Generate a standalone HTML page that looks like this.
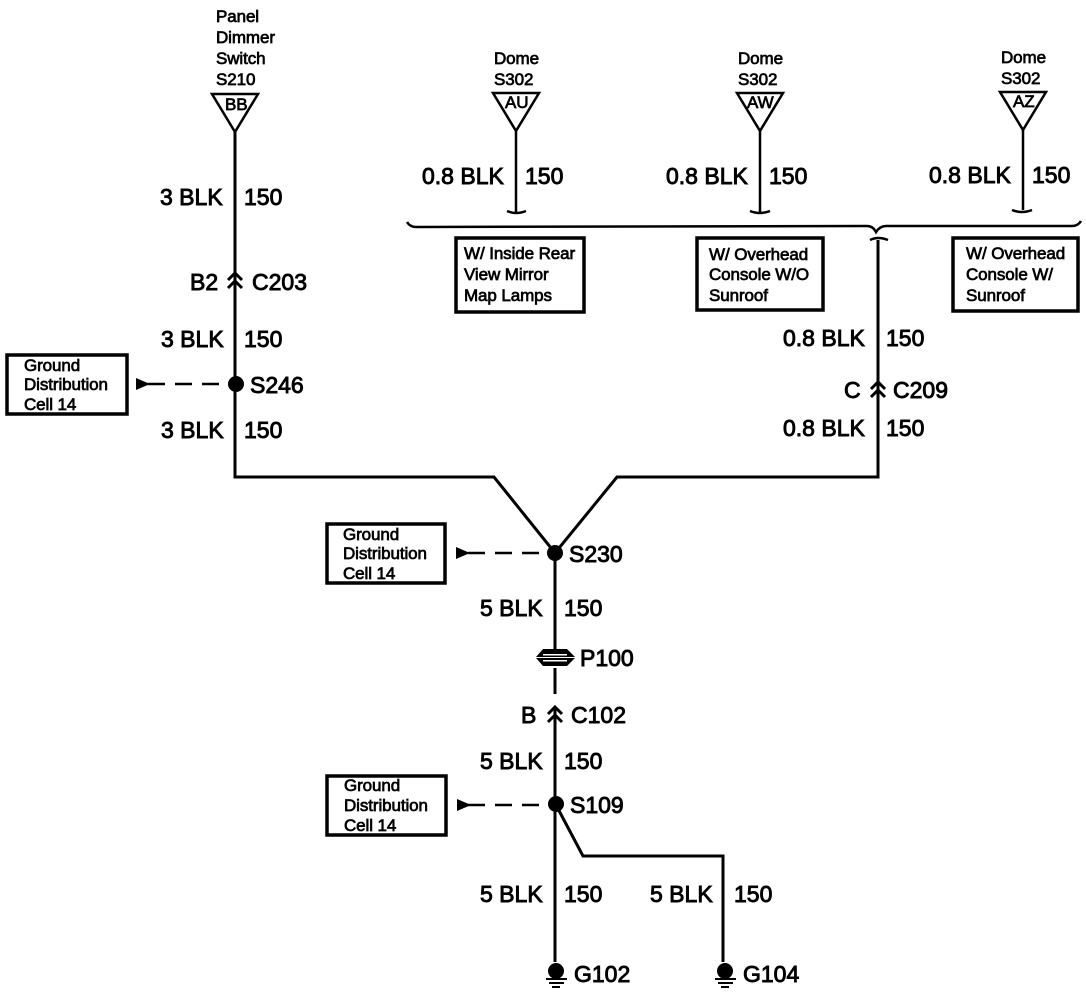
<!DOCTYPE html>
<html><head><meta charset="utf-8">
<style>
html,body{margin:0;padding:0;background:#fff}
svg{display:block}
text{font-family:"Liberation Sans",sans-serif;fill:#000;stroke:#000}
.l{font-size:23px;stroke-width:.9px}
.s{font-size:17px;stroke-width:.7px;letter-spacing:-.1px}
.w{fill:none;stroke:#000;stroke-width:3px}
.t{fill:none;stroke:#000;stroke-width:2.5px}
.b{fill:#fff;stroke:#000;stroke-width:3.5px}
</style></head><body>
<svg width="1086" height="1008" viewBox="0 0 1086 1008" xmlns="http://www.w3.org/2000/svg">
<!-- Triangles -->
<polygon class="t" points="212,94 258,94 235,132"/>
<polygon class="t" points="493,93 539,93 516,131"/>
<polygon class="t" points="737,93 783,93 760,131"/>
<polygon class="t" points="1000,92 1046,92 1023,130"/>
<!-- Wires -->
<polyline class="w" points="235,132 235,477 494,477 555,553 617,477 878,477 878,240"/>
<polyline class="w" points="555,553 555,650"/>
<polyline class="w" points="555,668 555,962"/>
<polyline class="w" points="556,805 583,856 723,856 723,962"/>
<polyline class="t" points="516,131 516,212"/>
<polyline class="t" points="760,131 760,212"/>
<polyline class="t" points="1023,130 1023,210"/>
<!-- Wire ends -->
<path class="t" d="M507,211 Q516,215 526,211"/>
<path class="t" d="M750,211 Q760,215 770,211"/>
<path class="t" d="M1012,210 Q1022,214 1032,210"/>
<path class="t" d="M870,240 Q878,236 888,240"/>
<!-- Brace -->
<path class="t" d="M407,222 Q410,227 416,227 L867,226 Q873,226 876,232 Q880,226 886,226 L1072,226 Q1078,226 1081,221"/>
<!-- Boxes top -->
<rect class="b" x="456" y="238" width="128" height="74"/>
<rect class="b" x="697" y="238" width="126" height="72"/>
<rect class="b" x="953" y="238" width="125" height="73"/>
<text class="s" x="464" y="259">W/ Inside Rear</text>
<text class="s" x="464" y="280">View Mirror</text>
<text class="s" x="464" y="301">Map Lamps</text>
<text class="s" x="709" y="260">W/ Overhead</text>
<text class="s" x="709" y="280">Console W/O</text>
<text class="s" x="709" y="301">Sunroof</text>
<text class="s" x="966" y="259">W/ Overhead</text>
<text class="s" x="966" y="280">Console W/</text>
<text class="s" x="966" y="301">Sunroof</text>
<!-- Ground distribution boxes -->
<rect class="b" x="7" y="355" width="120" height="59"/>
<rect class="b" x="327" y="524" width="118" height="59"/>
<rect class="b" x="327" y="776" width="119" height="59"/>
<text class="s" x="24" y="371">Ground</text>
<text class="s" x="24" y="390">Distribution</text>
<text class="s" x="24" y="410">Cell 14</text>
<text class="s" x="343" y="540">Ground</text>
<text class="s" x="343" y="559">Distribution</text>
<text class="s" x="343" y="579">Cell 14</text>
<text class="s" x="344" y="791">Ground</text>
<text class="s" x="344" y="811">Distribution</text>
<text class="s" x="344" y="831">Cell 14</text>
<!-- Dashed arrows -->
<path class="t" stroke-dasharray="17 10" d="M148,384 L228,384"/>
<path class="t" stroke-dasharray="17 10" d="M468,553 L548,553"/>
<path class="t" stroke-dasharray="17 10" d="M468,805 L548,805"/>
<polygon points="136,378 136,390 150,384"/>
<polygon points="456,547 456,559 470,553"/>
<polygon points="457,799 457,811 471,805"/>
<!-- Splices -->
<circle cx="236" cy="384" r="8"/>
<circle cx="555" cy="553" r="8"/>
<circle cx="556" cy="804" r="8"/>
<!-- Connectors -->
<path class="t" style="stroke-width:3px" d="M228,280 L235,273 L242,280 M228,288 L235,281 L242,288"/>
<path class="t" style="stroke-width:3px" d="M871,389 L878,382 L885,389 M871,397 L878,390 L885,397"/>
<rect x="548" y="694" width="14" height="14" fill="#fff"/>
<path class="t" style="stroke-width:3px" d="M548,714 L555,707 L562,714 M548,722 L555,715 L562,722"/>
<!-- P100 -->
<path d="M536,657 L543,649 L567,649 L575,657 Z M536,658 L543,666 L567,666 L575,658 Z" fill="#000"/>
<rect x="543" y="654" width="24" height="1.5" fill="#fff"/>
<rect x="543" y="660" width="24" height="1.5" fill="#fff"/>
<!-- Grounds -->
<circle cx="556" cy="971" r="8"/><rect x="546" y="978" width="21" height="2"/><rect x="549" y="982" width="15" height="2"/><rect x="552" y="986" width="8" height="2"/>
<circle cx="725" cy="971" r="8"/><rect x="715" y="978" width="21" height="2"/><rect x="718" y="982" width="15" height="2"/><rect x="721" y="986" width="8" height="2"/>
<!-- Top labels -->
<text class="s" x="216" y="22">Panel</text>
<text class="s" x="216" y="43">Dimmer</text>
<text class="s" x="216" y="64">Switch</text>
<text class="s" x="216" y="85">S210</text>
<text class="s" x="225" y="110">BB</text>
<text class="s" x="494" y="64">Dome</text>
<text class="s" x="494" y="85">S302</text>
<text class="s" x="505" y="108">AU</text>
<text class="s" x="738" y="64">Dome</text>
<text class="s" x="738" y="85">S302</text>
<text class="s" x="747" y="108">AW</text>
<text class="s" x="1001" y="63">Dome</text>
<text class="s" x="1001" y="84">S302</text>
<text class="s" x="1013" y="107">AZ</text>
<!-- Wire labels -->
<text class="l" x="160" y="205">3 BLK</text><text class="l" x="244" y="205">150</text>
<text class="l" x="190" y="290">B2</text><text class="l" x="252" y="290">C203</text>
<text class="l" x="161" y="347">3 BLK</text><text class="l" x="244" y="347">150</text>
<text class="l" x="250" y="393">S246</text>
<text class="l" x="161" y="438">3 BLK</text><text class="l" x="244" y="438">150</text>
<text class="l" x="422" y="184">0.8 BLK</text><text class="l" x="525" y="184">150</text>
<text class="l" x="666" y="184">0.8 BLK</text><text class="l" x="769" y="184">150</text>
<text class="l" x="929" y="183">0.8 BLK</text><text class="l" x="1032" y="183">150</text>
<text class="l" x="783" y="346">0.8 BLK</text><text class="l" x="886" y="346">150</text>
<text class="l" x="844" y="398">C</text><text class="l" x="893" y="398">C209</text>
<text class="l" x="783" y="436">0.8 BLK</text><text class="l" x="886" y="436">150</text>
<text class="l" x="569" y="562">S230</text>
<text class="l" x="480" y="616">5 BLK</text><text class="l" x="564" y="616">150</text>
<text class="l" x="580" y="666">P100</text>
<text class="l" x="521" y="723">B</text><text class="l" x="571" y="723">C102</text>
<text class="l" x="480" y="769">5 BLK</text><text class="l" x="564" y="769">150</text>
<text class="l" x="570" y="813">S109</text>
<text class="l" x="480" y="902">5 BLK</text><text class="l" x="564" y="902">150</text>
<text class="l" x="650" y="902">5 BLK</text><text class="l" x="734" y="902">150</text>
<text class="l" x="574" y="982">G102</text>
<text class="l" x="743" y="982">G104</text>
</svg>
</body></html>
